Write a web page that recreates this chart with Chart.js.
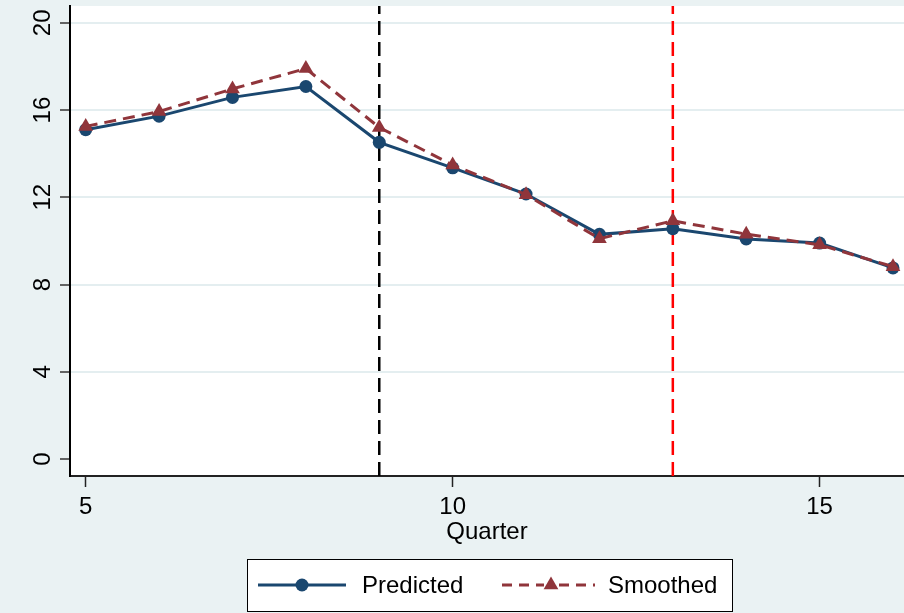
<!DOCTYPE html>
<html>
<head>
<meta charset="utf-8">
<script src="https://cdn.jsdelivr.net/npm/chart.js@4.4.1/dist/chart.umd.min.js"></script>
<style>
  html, body { margin: 0; padding: 0; background: #eaf2f3; }
  canvas { display: block; }
</style>
</head>
<body>
<canvas id="chart" width="904" height="613"></canvas>
<script>
// --- data ---
const quarters  = [5, 6, 7, 8, 9, 10, 11, 12, 13, 14, 15, 16];
const predicted = [15.1, 15.72, 16.58, 17.08, 14.52, 13.35, 12.15, 10.3, 10.56, 10.09, 9.9, 8.76];
const smoothed  = [15.25, 15.93, 16.97, 17.9, 15.2, 13.48, 12.12, 10.1, 10.92, 10.31, 9.82, 8.82];
const eventQuarters = [9, 13];
const eventColors   = ['#000000', '#ff0000'];
const yTicks = [0, 4, 8, 12, 16, 20];
const xTicks = [5, 10, 15];

const NAVY = '#1a476f';
const MAROON = '#90353b';
const BG = '#eaf2f3';
const FONT = '"Liberation Sans", Arial, sans-serif';

const toPoints = arr => quarters.map((q, i) => ({ x: q, y: arr[i] }));

const stataLook = {
  id: 'stataLook',
  beforeDraw(chart) {
    const { ctx, chartArea: a } = chart;
    ctx.save();
    ctx.fillStyle = BG;
    ctx.fillRect(0, 0, chart.width, chart.height);
    ctx.fillStyle = '#ffffff';
    ctx.fillRect(a.left, a.top, a.right - a.left, a.bottom - a.top);
    ctx.restore();
  },
  beforeDatasetsDraw(chart) {
    // dashed reference lines at the event quarters
    const { ctx, chartArea: a, scales: { x } } = chart;
    ctx.save();
    ctx.lineWidth = 2.5;
    ctx.setLineDash([14, 7]);
    eventQuarters.forEach((q, i) => {
      const px = x.getPixelForValue(q);
      ctx.strokeStyle = eventColors[i];
      ctx.beginPath();
      ctx.moveTo(px, a.bottom);
      ctx.lineTo(px, a.top);
      ctx.stroke();
    });
    ctx.restore();
  },
  afterDraw(chart) {
    const { ctx, scales: { y } } = chart;
    ctx.save();
    ctx.fillStyle = '#000';
    ctx.font = '24px ' + FONT;
    ctx.textAlign = 'center';
    ctx.textBaseline = 'middle';
    // vertical y labels, Stata style
    yTicks.forEach(v => {
      ctx.save();
      ctx.translate(43, y.getPixelForValue(v));
      ctx.rotate(-Math.PI / 2);
      ctx.fillText(String(v), 0, 0);
      ctx.restore();
    });

    // legend box
    ctx.fillStyle = '#ffffff';
    ctx.fillRect(247, 559, 485, 52);
    ctx.strokeStyle = '#000';
    ctx.lineWidth = 1;
    ctx.strokeRect(247.5, 559.5, 485, 52);

    const ly = 585;
    ctx.lineWidth = 3;
    ctx.strokeStyle = NAVY;
    ctx.setLineDash([]);
    ctx.beginPath(); ctx.moveTo(258, ly); ctx.lineTo(346, ly); ctx.stroke();
    ctx.fillStyle = NAVY;
    Chart.helpers.drawPoint(ctx, { pointStyle: 'circle', radius: 6.5, borderWidth: 0 }, 302, ly);

    ctx.strokeStyle = MAROON;
    ctx.setLineDash([10, 7]);
    ctx.beginPath(); ctx.moveTo(502, ly); ctx.lineTo(544, ly); ctx.stroke();
    ctx.beginPath(); ctx.moveTo(559, ly); ctx.lineTo(595, ly); ctx.stroke();
    ctx.setLineDash([]);
    ctx.fillStyle = MAROON;
    Chart.helpers.drawPoint(ctx, { pointStyle: 'triangle', radius: 8.5, borderWidth: 0 }, 551, ly);

    ctx.fillStyle = '#000';
    ctx.textAlign = 'left';
    ctx.fillText('Predicted', 362, ly + 1);
    ctx.fillText('Smoothed', 608, ly + 1);
    ctx.restore();
  }
};

new Chart(document.getElementById('chart'), {
  type: 'line',
  data: {
    datasets: [
      {
        label: 'Predicted',
        data: toPoints(predicted),
        borderColor: NAVY,
        backgroundColor: NAVY,
        borderWidth: 3,
        pointStyle: 'circle',
        pointRadius: 6.5,
        pointBorderWidth: 0,
        order: 1
      },
      {
        label: 'Smoothed',
        data: toPoints(smoothed),
        borderColor: MAROON,
        backgroundColor: MAROON,
        borderWidth: 3,
        borderDash: [12, 7],
        pointStyle: 'triangle',
        pointRadius: 8.5,
        pointBorderWidth: 0,
        order: 0
      }
    ]
  },
  options: {
    responsive: false,
    animation: false,
    layout: { autoPadding: false, padding: { top: 6, left: 0, right: 0, bottom: 0 } },
    plugins: { legend: { display: false }, tooltip: { enabled: false } },
    scales: {
      x: {
        type: 'linear',
        min: 4.786,
        max: 16.15,
        afterBuildTicks: s => { s.ticks = xTicks.map(v => ({ value: v })); },
        afterFit: s => { s.height = 137; },
        grid: { drawOnChartArea: false, tickLength: 11, tickColor: '#222', tickWidth: 1.5 },
        border: { color: '#222', width: 2 },
        ticks: { color: '#000', font: { family: FONT, size: 24 }, padding: 6, maxRotation: 0 },
        title: {
          display: true, text: 'Quarter', color: '#000',
          font: { family: FONT, size: 24 },
          padding: { top: 0, bottom: 66 }
        }
      },
      y: {
        type: 'linear',
        min: -0.78,
        max: 20.77,
        afterBuildTicks: s => { s.ticks = yTicks.map(v => ({ value: v })); },
        afterFit: s => { s.width = 70; },
        ticks: { display: false },
        grid: {
          color: c => (c.tick && c.tick.value === 0) ? 'rgba(0,0,0,0)' : '#e4eef0',
          lineWidth: 2,
          tickColor: '#333',
          tickLength: 10,
          tickWidth: 1.5
        },
        border: { color: '#000', width: 2 }
      }
    }
  },
  plugins: [stataLook]
});
</script>
</body>
</html>
